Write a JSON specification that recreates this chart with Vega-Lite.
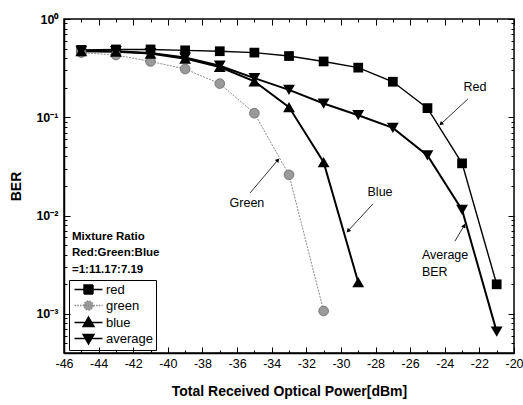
{
  "$schema": "https://vega.github.io/schema/vega-lite/v6.json",
  "width": 450,
  "height": 334,
  "autosize": "none",
  "padding": {"left": 64, "top": 19, "right": 9, "bottom": 52},
  "background": "white",
  "config": {
    "view": {"stroke": "black", "strokeWidth": 1.5},
    "font": "Liberation Sans",
    "axis": {"domainColor": "black", "domainWidth": 1.5, "tickColor": "black", "tickWidth": 1, "ticks": true, "grid": false, "labelColor": "black", "titleColor": "black", "labelFont": "Liberation Sans", "titleFont": "Liberation Sans"}
  },
  "datasets": {
    "ber": [
      {"power": -45, "ber": 0.485, "series": "red"},
      {"power": -43, "ber": 0.49, "series": "red"},
      {"power": -41, "ber": 0.49, "series": "red"},
      {"power": -39, "ber": 0.48, "series": "red"},
      {"power": -37, "ber": 0.47, "series": "red"},
      {"power": -35, "ber": 0.455, "series": "red"},
      {"power": -33, "ber": 0.42, "series": "red"},
      {"power": -31, "ber": 0.37, "series": "red"},
      {"power": -29, "ber": 0.32, "series": "red"},
      {"power": -27, "ber": 0.23, "series": "red"},
      {"power": -25, "ber": 0.124, "series": "red"},
      {"power": -23, "ber": 0.034, "series": "red"},
      {"power": -21, "ber": 0.002, "series": "red"},
      {"power": -45, "ber": 0.455, "series": "green"},
      {"power": -43, "ber": 0.43, "series": "green"},
      {"power": -41, "ber": 0.37, "series": "green"},
      {"power": -39, "ber": 0.31, "series": "green"},
      {"power": -37, "ber": 0.22, "series": "green"},
      {"power": -35, "ber": 0.11, "series": "green"},
      {"power": -33, "ber": 0.026, "series": "green"},
      {"power": -31, "ber": 0.00107, "series": "green"},
      {"power": -45, "ber": 0.47, "series": "blue"},
      {"power": -43, "ber": 0.465, "series": "blue"},
      {"power": -41, "ber": 0.445, "series": "blue"},
      {"power": -39, "ber": 0.395, "series": "blue"},
      {"power": -37, "ber": 0.325, "series": "blue"},
      {"power": -35, "ber": 0.232, "series": "blue"},
      {"power": -33, "ber": 0.127, "series": "blue"},
      {"power": -31, "ber": 0.035, "series": "blue"},
      {"power": -29, "ber": 0.0021, "series": "blue"},
      {"power": -45, "ber": 0.475, "series": "average"},
      {"power": -43, "ber": 0.47, "series": "average"},
      {"power": -41, "ber": 0.45, "series": "average"},
      {"power": -39, "ber": 0.405, "series": "average"},
      {"power": -37, "ber": 0.335, "series": "average"},
      {"power": -35, "ber": 0.25, "series": "average"},
      {"power": -33, "ber": 0.19, "series": "average"},
      {"power": -31, "ber": 0.138, "series": "average"},
      {"power": -29, "ber": 0.105, "series": "average"},
      {"power": -27, "ber": 0.078, "series": "average"},
      {"power": -25, "ber": 0.041, "series": "average"},
      {"power": -23, "ber": 0.0114, "series": "average"},
      {"power": -21, "ber": 0.00066, "series": "average"}
    ],
    "arrows": [
      {"name": "red", "x": -22.66, "y": 0.154, "x2": -24.22, "y2": 0.0855},
      {"name": "blue", "x": -28.15, "y": 0.01315, "x2": -29.59, "y2": 0.00698},
      {"name": "green", "x": -35.25, "y": 0.01699, "x2": -33.64, "y2": 0.0368},
      {"name": "average", "x": -23.41, "y": 0.0055, "x2": -22.88, "y2": 0.0079}
    ],
    "notesCenter": [
      {"x": -22.26, "y": 0.203, "text": "Red"},
      {"x": -27.74, "y": 0.0174, "text": "Blue"},
      {"x": -35.43, "y": 0.01345, "text": "Green"}
    ],
    "notesLeft": [
      {"x": -25.32, "y": 0.00398, "text": "Average"},
      {"x": -25.32, "y": 0.00267, "text": "BER"}
    ],
    "mixture": [
      {"x": -45.54, "y": 0.00607, "text": "Mixture Ratio"},
      {"x": -45.54, "y": 0.00417, "text": "Red:Green:Blue"},
      {"x": -45.54, "y": 0.0028, "text": "=1:11.17:7.19"}
    ]
  },
  "layer": [
    {
      "data": {"name": "ber"},
      "transform": [{"filter": "datum.series == 'red'"}],
      "mark": {"type": "line", "color": "black", "strokeWidth": 1.4},
      "encoding": {
        "x": {"field": "power", "type": "quantitative", "scale": {"domain": [-46, -20], "nice": false, "zero": false},
          "axis": {"orient": "bottom", "title": "Total Received Optical Power[dBm]", "titleFontSize": 14, "titleFontWeight": "bold", "titlePadding": 12,
            "values": [-46,-45,-44,-43,-42,-41,-40,-39,-38,-37,-36,-35,-34,-33,-32,-31,-30,-29,-28,-27,-26,-25,-24,-23,-22,-21,-20],
            "labelExpr": "datum.value % 2 == 0 ? '' + datum.value : ''", "labelFontSize": 12.5, "labelPadding": 10,
            "tickSize": {"condition": {"test": "datum.value % 2 == 0", "value": -6}, "value": -3},
            "labelFlush": false, "labelOverlap": false}},
        "y": {"field": "ber", "type": "quantitative", "scale": {"type": "log", "domain": [0.0004, 1], "nice": false},
          "axis": {"orient": "left", "title": "BER", "titleFontSize": 14, "titleFontWeight": "bold", "titlePadding": 12,
            "values": [0.0004,0.0005,0.0006,0.0007,0.0008,0.0009,0.001,0.002,0.003,0.004,0.005,0.006,0.007,0.008,0.009,0.01,0.02,0.03,0.04,0.05,0.06,0.07,0.08,0.09,0.1,0.2,0.3,0.4,0.5,0.6,0.7,0.8,0.9,1],
            "labelExpr": "datum.value == 1 ? '10⁰' : datum.value == 0.1 ? '10⁻¹' : datum.value == 0.01 ? '10⁻²' : datum.value == 0.001 ? '10⁻³' : ''",
            "labelFontSize": 12.5, "labelFontWeight": "bold", "labelPadding": 12,
            "tickSize": {"condition": {"test": "abs(log(datum.value)/LN10 - round(log(datum.value)/LN10)) < 0.000001", "value": -6}, "value": -3},
            "labelFlush": false, "labelOverlap": false}}
      }
    },
    {
      "data": {"name": "ber"},
      "transform": [{"filter": "datum.series == 'green'"}],
      "mark": {"type": "line", "color": "#8a8a8a", "strokeWidth": 1, "strokeDash": [2, 1.2]},
      "encoding": {
        "x": {"field": "power", "type": "quantitative", "scale": {"domain": [-46, -20], "nice": false, "zero": false}, "axis": null},
        "y": {"field": "ber", "type": "quantitative", "scale": {"type": "log", "domain": [0.0004, 1], "nice": false}, "axis": null}
      }
    },
    {
      "data": {"name": "ber"},
      "transform": [{"filter": "datum.series == 'blue'"}],
      "mark": {"type": "line", "color": "black", "strokeWidth": 2},
      "encoding": {
        "x": {"field": "power", "type": "quantitative", "scale": {"domain": [-46, -20], "nice": false, "zero": false}, "axis": null},
        "y": {"field": "ber", "type": "quantitative", "scale": {"type": "log", "domain": [0.0004, 1], "nice": false}, "axis": null}
      }
    },
    {
      "data": {"name": "ber"},
      "transform": [{"filter": "datum.series == 'average'"}],
      "mark": {"type": "line", "color": "black", "strokeWidth": 2},
      "encoding": {
        "x": {"field": "power", "type": "quantitative", "scale": {"domain": [-46, -20], "nice": false, "zero": false}, "axis": null},
        "y": {"field": "ber", "type": "quantitative", "scale": {"type": "log", "domain": [0.0004, 1], "nice": false}, "axis": null}
      }
    },
    {
      "data": {"name": "ber"},
      "transform": [{"filter": "datum.series == 'red'"}],
      "mark": {"type": "point", "shape": "square", "filled": true, "color": "black", "size": 95, "opacity": 1},
      "encoding": {
        "x": {"field": "power", "type": "quantitative", "scale": {"domain": [-46, -20], "nice": false, "zero": false},
          "axis": {"orient": "top", "title": null, "labels": false, "domain": false,
            "values": [-46,-45,-44,-43,-42,-41,-40,-39,-38,-37,-36,-35,-34,-33,-32,-31,-30,-29,-28,-27,-26,-25,-24,-23,-22,-21,-20],
            "tickSize": {"condition": {"test": "datum.value % 2 == 0", "value": -6}, "value": -3}}},
        "y": {"field": "ber", "type": "quantitative", "scale": {"type": "log", "domain": [0.0004, 1], "nice": false},
          "axis": {"orient": "right", "title": null, "labels": false, "domain": false,
            "values": [0.0004,0.0005,0.0006,0.0007,0.0008,0.0009,0.001,0.002,0.003,0.004,0.005,0.006,0.007,0.008,0.009,0.01,0.02,0.03,0.04,0.05,0.06,0.07,0.08,0.09,0.1,0.2,0.3,0.4,0.5,0.6,0.7,0.8,0.9,1],
            "tickSize": {"condition": {"test": "abs(log(datum.value)/LN10 - round(log(datum.value)/LN10)) < 0.000001", "value": -6}, "value": -3}}}
      }
    },
    {
      "data": {"name": "ber"},
      "transform": [{"filter": "datum.series == 'green'"}],
      "mark": {"type": "point", "shape": "circle", "filled": true, "fill": "#9a9a9a", "stroke": "#6a6a6a", "strokeWidth": 0.8, "size": 95, "opacity": 1},
      "encoding": {
        "x": {"field": "power", "type": "quantitative", "scale": {"domain": [-46, -20], "nice": false, "zero": false}, "axis": null},
        "y": {"field": "ber", "type": "quantitative", "scale": {"type": "log", "domain": [0.0004, 1], "nice": false}, "axis": null}
      }
    },
    {
      "data": {"name": "ber"},
      "transform": [{"filter": "datum.series == 'blue'"}],
      "mark": {"type": "point", "shape": "triangle-up", "filled": true, "color": "black", "size": 140, "opacity": 1},
      "encoding": {
        "x": {"field": "power", "type": "quantitative", "scale": {"domain": [-46, -20], "nice": false, "zero": false}, "axis": null},
        "y": {"field": "ber", "type": "quantitative", "scale": {"type": "log", "domain": [0.0004, 1], "nice": false}, "axis": null}
      }
    },
    {
      "data": {"name": "ber"},
      "transform": [{"filter": "datum.series == 'average'"}],
      "mark": {"type": "point", "shape": "triangle-down", "filled": true, "color": "black", "size": 140, "opacity": 1},
      "encoding": {
        "x": {"field": "power", "type": "quantitative", "scale": {"domain": [-46, -20], "nice": false, "zero": false}, "axis": null},
        "y": {"field": "ber", "type": "quantitative", "scale": {"type": "log", "domain": [0.0004, 1], "nice": false}, "axis": null}
      }
    },
    {
      "data": {"name": "ber"},
      "mark": {"type": "point", "filled": true, "opacity": 0},
      "encoding": {
        "x": {"field": "power", "type": "quantitative", "scale": {"domain": [-46, -20], "nice": false, "zero": false}, "axis": null},
        "y": {"field": "ber", "type": "quantitative", "scale": {"type": "log", "domain": [0.0004, 1], "nice": false}, "axis": null},
        "color": {"field": "series", "type": "nominal", "scale": {"domain": ["red", "green", "blue", "average"], "range": ["black", "#9a9a9a", "black", "black"]}},
        "stroke": {"field": "series", "type": "nominal", "scale": {"domain": ["red", "green", "blue", "average"], "range": ["black", "#8a8a8a", "black", "black"]}},
        "strokeDash": {"field": "series", "type": "nominal", "scale": {"domain": ["red", "green", "blue", "average"], "range": [[1, 0], [1.5, 1.2], [1, 0], [1, 0]]}},
        "shape": {"field": "series", "type": "nominal",
          "scale": {"domain": ["red", "green", "blue", "average"], "range": [
            "M-2.8,0H2.8M-0.9,-0.9H0.9V0.9H-0.9Z",
            "M-2.8,0H2.8M0.9,0A0.9,0.9 0 1,1 -0.9,0A0.9,0.9 0 1,1 0.9,0Z",
            "M-2.8,0H2.8M0,-1.1L1.1,0.8H-1.1Z",
            "M-2.8,0H2.8M0,1.1L1.1,-0.8H-1.1Z"]},
          "legend": {"title": null, "orient": "none", "legendX": 5, "legendY": 261, "strokeColor": "black", "padding": 3,
            "labelFont": "Liberation Sans", "labelFontSize": 13, "labelColor": "black", "symbolSize": 100, "symbolOffset": 10, "labelOffset": 11,
            "rowPadding": 1, "symbolOpacity": 1, "symbolStrokeWidth": 1.4}}
      }
    },
    {
      "data": {"name": "arrows"},
      "mark": {"type": "rule", "color": "black", "strokeWidth": 0.8},
      "encoding": {
        "x": {"field": "x", "type": "quantitative", "scale": {"domain": [-46, -20], "nice": false, "zero": false}, "axis": null},
        "y": {"field": "y", "type": "quantitative", "scale": {"type": "log", "domain": [0.0004, 1], "nice": false}, "axis": null},
        "x2": {"field": "x2"},
        "y2": {"field": "y2"}
      }
    },
    {
      "data": {"name": "arrows"},
      "transform": [{"filter": "datum.name == 'red'"}],
      "mark": {"type": "point", "shape": "triangle-up", "filled": true, "color": "black", "size": 22, "angle": 227, "opacity": 1},
      "encoding": {
        "x": {"field": "x2", "type": "quantitative", "scale": {"domain": [-46, -20], "nice": false, "zero": false}, "axis": null},
        "y": {"field": "y2", "type": "quantitative", "scale": {"type": "log", "domain": [0.0004, 1], "nice": false}, "axis": null}
      }
    },
    {
      "data": {"name": "arrows"},
      "transform": [{"filter": "datum.name == 'blue'"}],
      "mark": {"type": "point", "shape": "triangle-up", "filled": true, "color": "black", "size": 22, "angle": 223, "opacity": 1},
      "encoding": {
        "x": {"field": "x2", "type": "quantitative", "scale": {"domain": [-46, -20], "nice": false, "zero": false}, "axis": null},
        "y": {"field": "y2", "type": "quantitative", "scale": {"type": "log", "domain": [0.0004, 1], "nice": false}, "axis": null}
      }
    },
    {
      "data": {"name": "arrows"},
      "transform": [{"filter": "datum.name == 'green'"}],
      "mark": {"type": "point", "shape": "triangle-up", "filled": true, "color": "black", "size": 22, "angle": 40, "opacity": 1},
      "encoding": {
        "x": {"field": "x2", "type": "quantitative", "scale": {"domain": [-46, -20], "nice": false, "zero": false}, "axis": null},
        "y": {"field": "y2", "type": "quantitative", "scale": {"type": "log", "domain": [0.0004, 1], "nice": false}, "axis": null}
      }
    },
    {
      "data": {"name": "arrows"},
      "transform": [{"filter": "datum.name == 'average'"}],
      "mark": {"type": "point", "shape": "triangle-up", "filled": true, "color": "black", "size": 22, "angle": 25, "opacity": 1},
      "encoding": {
        "x": {"field": "x2", "type": "quantitative", "scale": {"domain": [-46, -20], "nice": false, "zero": false}, "axis": null},
        "y": {"field": "y2", "type": "quantitative", "scale": {"type": "log", "domain": [0.0004, 1], "nice": false}, "axis": null}
      }
    },
    {
      "data": {"name": "notesCenter"},
      "mark": {"type": "text", "align": "center", "baseline": "middle", "font": "Liberation Sans", "fontSize": 12.5, "color": "black"},
      "encoding": {
        "x": {"field": "x", "type": "quantitative", "scale": {"domain": [-46, -20], "nice": false, "zero": false}, "axis": null},
        "y": {"field": "y", "type": "quantitative", "scale": {"type": "log", "domain": [0.0004, 1], "nice": false}, "axis": null},
        "text": {"field": "text"}
      }
    },
    {
      "data": {"name": "notesLeft"},
      "mark": {"type": "text", "align": "left", "baseline": "middle", "font": "Liberation Sans", "fontSize": 12.5, "color": "black"},
      "encoding": {
        "x": {"field": "x", "type": "quantitative", "scale": {"domain": [-46, -20], "nice": false, "zero": false}, "axis": null},
        "y": {"field": "y", "type": "quantitative", "scale": {"type": "log", "domain": [0.0004, 1], "nice": false}, "axis": null},
        "text": {"field": "text"}
      }
    },
    {
      "data": {"name": "mixture"},
      "mark": {"type": "text", "align": "left", "baseline": "middle", "font": "Liberation Sans", "fontSize": 11.5, "fontWeight": "bold", "color": "black"},
      "encoding": {
        "x": {"field": "x", "type": "quantitative", "scale": {"domain": [-46, -20], "nice": false, "zero": false}, "axis": null},
        "y": {"field": "y", "type": "quantitative", "scale": {"type": "log", "domain": [0.0004, 1], "nice": false}, "axis": null},
        "text": {"field": "text"}
      }
    }
  ],
  "resolve": {"axis": {"x": "independent", "y": "independent"}}
}
